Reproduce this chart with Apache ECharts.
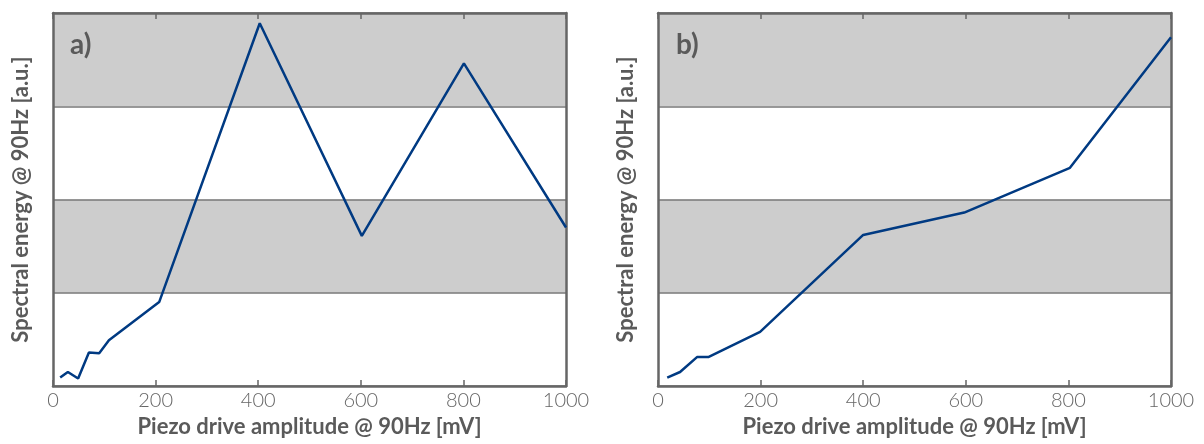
<!DOCTYPE html>
<html>
<head>
<meta charset="utf-8">
<script src="https://cdn.jsdelivr.net/npm/echarts@6/dist/echarts.min.js"></script>
<style>html,body{margin:0;padding:0;background:#fff}#c{width:1204px;height:444px}</style>
</head>
<body>
<div id="c"></div>
<script>
// Panel a)
var ampA = [14, 29, 49, 70, 90, 109, 207, 403, 602, 801, 1000];
var energyA = [0.09, 0.15, 0.08, 0.36, 0.35, 0.49, 0.90, 3.89, 1.61, 3.46, 1.70];
// Panel b)
var ampB = [18, 43, 76, 98, 199, 400, 597, 803, 1000];
var energyB = [0.09, 0.15, 0.31, 0.31, 0.58, 1.62, 1.86, 2.34, 3.74];
var xTicks = [0, 200, 400, 600, 800, 1000];
var panelLabels = ['a)', 'b)'];
var xTitle = 'Piezo drive amplitude @ 90Hz [mV]';
var yTitle = 'Spectral energy @ 90Hz [a.u.]';

var FONT = 'Lato';
var AX = '#666666';
var grids = [
  {left: 53, right: 638, top: 13, bottom: 58},
  {left: 658, right: 33, top: 13, bottom: 58}
];
function pairs(xs, ys){ return xs.map(function(x,i){ return [x, ys[i]]; }); }

var xAxes = [], yAxes = [], series = [];
[0,1].forEach(function(g){
  xAxes.push({
    gridIndex: g, type: 'value', min: xTicks[0], max: xTicks[xTicks.length-1], interval: 200, position: 'bottom',
    name: xTitle, nameLocation: 'middle', nameGap: 29,
    nameTextStyle: {fontFamily: FONT, fontWeight: 'bold', fontSize: 22, color: '#5a5a5a'},
    axisLine: {show: true, onZero: false, lineStyle: {color: AX, width: 2.5}},
    axisTick: {show: true, inside: true, length: 6, lineStyle: {color: AX, width: 1.5}},
    axisLabel: {show: true, margin: 5, fontFamily: FONT, fontWeight: 300, fontSize: 20, color: '#666',
      formatter: function(v){ return String(v); }},
    splitLine: {show: false}
  });
  xAxes.push({
    gridIndex: g, type: 'value', min: xTicks[0], max: xTicks[xTicks.length-1], interval: 200, position: 'top',
    axisLine: {show: true, onZero: false, lineStyle: {color: AX, width: 2.5}},
    axisTick: {show: true, inside: true, length: 6, lineStyle: {color: AX, width: 1.5}},
    axisLabel: {show: false}, splitLine: {show: false}
  });
  yAxes.push({
    gridIndex: g, type: 'value', min: 0, max: 4, interval: 1, position: 'left',
    name: yTitle, nameLocation: 'middle', nameGap: 21,
    nameTextStyle: {fontFamily: FONT, fontWeight: 'bold', fontSize: 22, color: '#5a5a5a'},
    axisLine: {show: true, onZero: false, lineStyle: {color: AX, width: 2.5}},
    axisTick: {show: false}, axisLabel: {show: false},
    splitLine: {show: true, lineStyle: {color: '#777', width: 1.5}},
    splitArea: {show: true, areaStyle: {color: ['#ffffff', '#cdcdcd']}}
  });
  yAxes.push({
    gridIndex: g, type: 'value', min: 0, max: 4, interval: 1, position: 'right',
    axisLine: {show: true, onZero: false, lineStyle: {color: AX, width: 2.5}},
    axisTick: {show: false}, axisLabel: {show: false}, splitLine: {show: false}
  });
});
series.push({type: 'line', xAxisIndex: 0, yAxisIndex: 0, data: pairs(ampA, energyA), symbol: 'none',
  lineStyle: {color: '#003a82', width: 2.5}, z: 5});
series.push({type: 'line', xAxisIndex: 2, yAxisIndex: 2, data: pairs(ampB, energyB), symbol: 'none',
  lineStyle: {color: '#003a82', width: 2.5}, z: 5});

var chart = echarts.init(document.getElementById('c'), null, {renderer: 'canvas'});
chart.setOption({
  animation: false,
  backgroundColor: '#fff',
  grid: grids,
  xAxis: xAxes,
  yAxis: yAxes,
  title: [
    {text: panelLabels[0], left: 70, top: 31, textStyle: {fontFamily: FONT, fontWeight: 'bold', fontSize: 28, color: '#5a5a5a'}, padding: 0},
    {text: panelLabels[1], left: 676, top: 31, textStyle: {fontFamily: FONT, fontWeight: 'bold', fontSize: 28, color: '#5a5a5a'}, padding: 0}
  ],
  series: series
});
</script>
</body>
</html>
